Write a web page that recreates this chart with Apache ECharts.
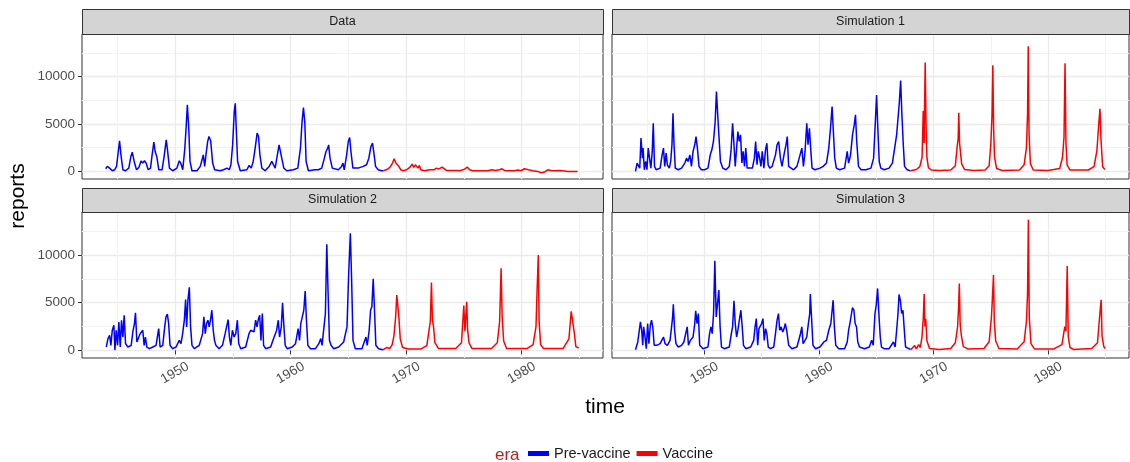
<!DOCTYPE html>
<html><head><meta charset="utf-8">
<script src="https://cdn.jsdelivr.net/npm/echarts@6/dist/echarts.min.js"></script>
<style>html,body{margin:0;padding:0;background:#fff}#c{width:1130px;height:462px}</style>
</head><body><div id="c"></div><script>
// ---------- data ----------
const panelNames = ['Data', 'Simulation 1', 'Simulation 2', 'Simulation 3'];
const eraNames = ['Pre-vaccine', 'Vaccine'];
const xTicks = [1950, 1960, 1970, 1980];
const xMinorTicks = [1945, 1955, 1965, 1975, 1985];
const yTicks = [0, 5000, 10000];
const yMinorTicks = [2500, 7500, 12500];

// Data panel
const dataPreT = [1944.0,1944.14,1944.34,1944.57,1944.77,1944.94,1945.09,1945.2,1945.32,1945.49,1945.72,1946.0,1946.18,1946.3,1946.4,1946.5,1946.67,1946.87,1947.07,1947.2,1947.36,1947.5,1947.68,1947.88,1948.02,1948.17,1948.28,1948.42,1948.6,1948.88,1949.06,1949.24,1949.35,1949.52,1949.8,1950.17,1950.37,1950.5,1950.67,1950.84,1950.96,1951.07,1951.19,1951.3,1951.47,1951.9,1952.19,1952.34,1952.45,1952.57,1952.68,1952.83,1952.94,1953.09,1953.26,1953.43,1953.92,1954.2,1954.5,1954.7,1954.84,1954.99,1955.13,1955.22,1955.3,1955.42,1955.65,1956.22,1956.42,1956.6,1956.77,1956.94,1957.11,1957.23,1957.35,1957.52,1957.8,1958.15,1958.38,1958.53,1958.67,1958.84,1959.01,1959.13,1959.24,1959.42,1959.68,1960.25,1960.63,1960.86,1961.0,1961.12,1961.24,1961.35,1961.55,1962.12,1962.41,1962.7,1962.93,1963.07,1963.22,1963.3,1963.42,1963.62,1964.14,1964.42,1964.54,1964.65,1964.86,1965.0,1965.12,1965.23,1965.4,1965.86,1966.29,1966.58,1966.78,1966.96,1967.1,1967.22,1967.36,1967.59,1967.88,1968.02];
const dataPreV = [280,530,350,70,175,530,2100,3230,1750,175,70,350,1580,2035,2035,880,175,420,1120,880,1120,880,175,350,1750,3090,2100,1580,175,175,1580,3330,2280,350,70,350,1120,880,175,2280,4560,7020,4560,1050,70,70,530,1230,1750,530,1750,3160,3680,3230,880,175,70,175,350,175,700,2800,6320,7190,4560,1050,70,175,630,350,1050,2460,4040,3680,1750,350,70,530,1050,700,350,1580,2800,2880,1400,350,70,175,350,2460,5260,6740,5090,1050,70,175,175,350,1400,2100,2460,2800,1400,350,175,530,880,175,1750,3160,3580,2100,350,350,530,700,1400,2630,2980,1930,530,175,70,70];
const dataVacT = [1968.02,1968.3,1968.6,1968.83,1968.97,1969.12,1969.32,1969.55,1969.75,1970.04,1970.32,1970.53,1970.67,1970.81,1970.93,1971.04,1971.16,1971.27,1971.62,1972.05,1972.42,1972.63,1972.83,1973.12,1973.29,1973.49,1973.92,1974.35,1974.64,1975.07,1975.3,1975.5,1975.79,1976.51,1977.09,1977.43,1977.58,1977.72,1978.1,1978.3,1978.53,1978.96,1979.39,1979.68,1979.96,1980.25,1980.4,1980.6,1980.97,1981.4,1981.69,1981.83,1981.98,1982.27,1982.55,1982.84,1983.27,1983.56,1983.99,1984.42,1984.85];
const dataVacV = [70,175,420,880,1330,880,630,175,70,175,420,770,420,700,880,350,630,175,70,175,175,350,245,455,350,105,105,105,70,245,455,175,70,70,70,175,350,105,175,280,105,70,70,140,70,280,350,175,70,0,-140,-280,-70,175,105,70,105,70,0,0,0];

// Simulation 1
const sim1PreT = [1944.0,1944.14,1944.28,1944.37,1944.48,1944.60,1944.66,1944.77,1944.89,1945.00,1945.11,1945.23,1945.34,1945.46,1945.55,1945.66,1945.80,1946.15,1946.32,1946.44,1946.55,1946.67,1946.78,1946.95,1947.07,1947.18,1947.27,1947.36,1947.47,1947.73,1948.02,1948.30,1948.45,1948.59,1948.74,1948.88,1949.02,1949.17,1949.28,1949.40,1949.54,1949.74,1950.03,1950.32,1950.52,1950.66,1950.80,1950.95,1951.06,1951.18,1951.29,1951.41,1951.61,1951.90,1952.18,1952.33,1952.47,1952.59,1952.70,1952.82,1952.93,1953.05,1953.16,1953.28,1953.39,1953.51,1953.62,1953.74,1953.91,1954.20,1954.37,1954.48,1954.60,1954.71,1954.83,1954.94,1955.06,1955.20,1955.34,1955.46,1955.57,1955.72,1955.92,1956.21,1956.35,1956.49,1956.64,1956.78,1956.98,1957.13,1957.24,1957.36,1957.50,1957.79,1958.08,1958.28,1958.51,1958.65,1958.79,1958.94,1959.05,1959.17,1959.28,1959.40,1959.66,1960.09,1960.37,1960.66,1960.86,1961.01,1961.15,1961.26,1961.38,1961.52,1961.81,1962.24,1962.47,1962.59,1962.76,1962.93,1963.08,1963.19,1963.30,1963.45,1963.68,1964.11,1964.54,1964.77,1964.91,1965.03,1965.14,1965.26,1965.40,1965.69,1966.12,1966.41,1966.55,1966.78,1966.90,1967.01,1967.13,1967.24,1967.36,1967.47,1967.70,1968.0];
const sim1PreV = [0,880,1050,350,3510,1400,2460,175,1050,175,2460,2280,350,2110,5090,530,175,350,1750,2460,530,1930,700,350,1050,2810,6140,2810,350,175,350,880,1400,1050,1750,530,2110,2810,3680,2460,530,175,175,350,1750,2280,3160,5260,8420,5790,3510,1050,350,175,530,2110,5090,2810,530,2460,4210,3160,3860,880,2110,530,2460,350,175,350,1400,3160,700,2110,1400,530,2110,350,2280,2980,700,350,530,1750,2810,3160,1400,530,1930,2810,3680,530,350,175,530,1400,2460,530,2110,5090,2810,4560,2460,350,175,350,530,880,2460,4560,6840,4210,1400,350,175,350,2110,880,1750,3860,4910,5970,3160,530,175,175,350,1400,4910,8070,4560,1050,350,175,350,880,700,3860,5610,7190,9580,5970,2810,530,175,60];
const sim1VacT = [1968.0,1968.5,1968.8,1969.0,1969.1,1969.18,1969.27,1969.35,1969.42,1969.55,1969.8,1970.5,1971.5,1971.9,1972.05,1972.15,1972.2,1972.27,1972.35,1972.45,1972.7,1973.5,1974.5,1974.85,1975.0,1975.1,1975.17,1975.24,1975.32,1975.5,1976.0,1977.5,1977.9,1978.1,1978.2,1978.26,1978.33,1978.45,1978.7,1980.0,1981.0,1981.25,1981.38,1981.47,1981.55,1981.65,1981.9,1983.5,1984.0,1984.25,1984.4,1984.52,1984.6,1984.75,1984.95];
const sim1VacV = [60,200,500,1500,6400,3000,11500,4500,1500,400,150,100,150,600,2500,3500,6200,3000,2800,800,200,100,150,600,3000,5900,11200,4500,1500,300,100,150,700,2500,6000,13200,4000,800,150,100,300,1500,3600,11400,3000,700,150,150,500,2200,4800,6600,3500,500,200];

// Simulation 2
const sim2PreT = [1944.05,1944.20,1944.34,1944.45,1944.57,1944.71,1944.80,1944.91,1945.03,1945.14,1945.26,1945.37,1945.49,1945.60,1945.72,1945.92,1946.21,1946.35,1946.49,1946.58,1946.70,1946.81,1946.98,1947.10,1947.21,1947.33,1947.44,1947.56,1947.79,1948.08,1948.36,1948.59,1948.71,1948.94,1949.11,1949.22,1949.34,1949.45,1949.57,1949.80,1950.09,1950.37,1950.52,1950.66,1950.81,1950.92,1951.01,1951.12,1951.24,1951.35,1951.47,1951.67,1952.10,1952.39,1952.50,1952.62,1952.73,1952.85,1952.96,1953.08,1953.19,1953.31,1953.42,1953.54,1953.82,1954.11,1954.34,1954.48,1954.60,1954.71,1954.83,1954.97,1955.12,1955.26,1955.40,1955.52,1955.69,1956.12,1956.41,1956.55,1956.70,1956.84,1956.98,1957.10,1957.21,1957.33,1957.44,1957.56,1957.67,1957.85,1958.28,1958.48,1958.65,1958.80,1958.94,1959.05,1959.20,1959.31,1959.43,1959.54,1959.71,1960.15,1960.43,1960.66,1960.78,1960.89,1961.01,1961.15,1961.27,1961.38,1961.50,1961.73,1962.16,1962.45,1962.62,1962.73,1962.88,1963.02,1963.14,1963.25,1963.37,1963.51,1963.74,1964.17,1964.60,1964.74,1964.89,1965.03,1965.18,1965.29,1965.41,1965.61,1966.18,1966.53,1966.64,1966.81,1966.93,1967.04,1967.16,1967.27,1967.39,1967.62,1968.0];
const sim2PreV = [350,1230,1580,530,2110,2630,30,2110,530,2980,350,3160,1400,3680,700,350,530,1930,2810,3930,880,700,1750,1930,2110,530,1400,350,175,350,530,2280,350,530,2460,3510,3790,2810,530,175,350,1050,700,1750,3160,5330,2460,5260,6600,2460,530,175,530,1750,3510,1750,2810,3160,2460,3230,4210,2110,1050,530,175,530,1750,1580,3230,1400,530,2110,1400,1750,3160,700,175,350,1750,2110,1930,1930,3160,2460,3230,3680,1050,3860,530,175,350,1050,880,2110,3160,1400,2460,4980,2460,530,175,350,700,2280,1050,2810,2810,4210,6210,3160,530,175,175,700,1230,530,2280,3860,11120,6140,1050,530,175,350,880,880,2460,7900,12280,7370,1050,175,175,1400,530,2110,4210,4560,7510,4210,530,175,60];
const sim2VacT = [1968.0,1968.3,1968.6,1968.8,1968.95,1969.1,1969.2,1969.3,1969.38,1969.5,1969.7,1970.2,1971.3,1971.8,1972.0,1972.1,1972.2,1972.28,1972.38,1972.5,1972.8,1974.3,1974.8,1975.0,1975.1,1975.25,1975.33,1975.45,1975.7,1977.4,1977.9,1978.1,1978.23,1978.32,1978.45,1978.7,1980.5,1981.0,1981.25,1981.35,1981.45,1981.52,1981.65,1981.9,1983.6,1984.1,1984.3,1984.45,1984.55,1984.7,1984.95];
const sim2VacV = [60,300,200,600,1500,3500,5800,5700,3500,1200,300,150,150,500,2200,3000,7100,3200,2500,800,200,200,800,4700,2000,5100,2200,800,200,200,800,3000,8600,3500,1000,200,200,600,2500,6500,10000,3000,600,200,200,1200,4100,4000,2000,400,250];

// Simulation 3
const sim3PreT = [1944.0,1944.20,1944.31,1944.43,1944.54,1944.63,1944.71,1944.83,1944.94,1945.06,1945.17,1945.29,1945.40,1945.52,1945.63,1945.86,1946.15,1946.29,1946.44,1946.58,1946.78,1947.01,1947.13,1947.24,1947.30,1947.41,1947.53,1947.73,1948.02,1948.22,1948.39,1948.51,1948.62,1948.79,1949.02,1949.17,1949.25,1949.37,1949.48,1949.60,1949.89,1950.32,1950.46,1950.58,1950.69,1950.81,1950.92,1951.04,1951.15,1951.27,1951.38,1951.50,1951.75,1952.18,1952.36,1952.47,1952.59,1952.70,1952.82,1952.93,1953.05,1953.19,1953.31,1953.42,1953.62,1954.05,1954.31,1954.43,1954.54,1954.66,1954.77,1954.89,1955.00,1955.12,1955.23,1955.35,1955.46,1955.58,1955.78,1956.06,1956.21,1956.35,1956.47,1956.58,1956.70,1956.84,1956.96,1957.07,1957.21,1957.36,1957.64,1958.08,1958.36,1958.51,1958.62,1958.79,1958.94,1959.08,1959.20,1959.25,1959.37,1959.48,1959.71,1960.09,1960.43,1960.66,1960.86,1961.04,1961.24,1961.35,1961.47,1961.73,1962.24,1962.47,1962.59,1962.70,1962.82,1962.93,1963.05,1963.16,1963.28,1963.39,1963.54,1963.97,1964.40,1964.60,1964.74,1964.89,1965.00,1965.12,1965.23,1965.35,1965.46,1965.69,1966.12,1966.50,1966.65,1966.78,1966.90,1966.99,1967.10,1967.22,1967.33,1967.45,1967.56,1967.85,1968.0];
const sim3PreV = [70,880,1050,2980,2110,530,2460,1400,175,2810,700,2630,3160,2280,530,530,700,1050,1400,700,530,1050,2280,3510,4840,2110,700,350,530,880,1050,2460,530,1050,1400,2810,4140,2810,3860,530,175,350,1750,2460,1750,3860,9400,3510,3510,6320,2460,350,175,350,1750,2460,5190,2810,1400,2110,2280,4210,2460,530,175,350,1050,2460,3330,530,2280,2110,2810,3330,1050,2280,1750,350,175,350,1750,3160,3860,2110,2460,1930,2280,2810,1930,530,175,350,1580,2460,700,1050,1400,2810,3860,5900,3160,530,175,350,880,1050,2110,2810,5260,2460,530,175,175,880,2110,2810,3680,4490,4210,2810,2460,880,350,175,350,1050,530,3860,4740,6490,3860,1400,350,175,175,880,350,2110,3860,5860,5260,3860,4210,2110,350,175,70];
const sim3VacT = [1968.0,1968.35,1968.5,1968.7,1968.85,1969.0,1969.1,1969.18,1969.25,1969.32,1969.42,1969.65,1970.5,1971.5,1971.9,1972.1,1972.18,1972.25,1972.32,1972.42,1972.6,1973.0,1974.4,1974.85,1975.05,1975.15,1975.23,1975.3,1975.42,1975.7,1977.3,1977.9,1978.1,1978.2,1978.27,1978.35,1978.5,1978.8,1980.5,1981.2,1981.45,1981.55,1981.66,1981.75,1981.9,1982.2,1983.8,1984.3,1984.5,1984.62,1984.7,1984.85,1984.98];
const sim3VacV = [70,500,150,600,300,1500,3300,5900,2500,3300,1000,200,100,200,800,2500,4400,7000,2800,1600,400,150,200,900,3500,5800,7900,3000,1000,200,150,900,3000,5900,13700,3500,700,150,150,600,2500,2000,8850,1500,300,100,200,800,3700,5300,1500,400,200];

// ---------- layout ----------
const panelData = [
  [[dataPreT, dataPreV], [dataVacT, dataVacV]],
  [[sim1PreT, sim1PreV], [sim1VacT, sim1VacV]],
  [[sim2PreT, sim2PreV], [sim2VacT, sim2VacV]],
  [[sim3PreT, sim3PreV], [sim3VacT, sim3VacV]]
];
const eraColors = ['#0000FF', '#FF0000'];
const gridBoxes = [
  {left: 82, top: 34, width: 521, height: 145},
  {left: 612, top: 34, width: 517, height: 145},
  {left: 82, top: 212, width: 521, height: 146},
  {left: 612, top: 212, width: 517, height: 146}
];
const stripBoxes = [
  {x: 82, y: 9, h: 25}, {x: 612, y: 9, h: 25},
  {x: 82, y: 188, h: 24}, {x: 612, y: 188, h: 24}
];
const X_MIN = 1941.95, X_MAX = 1987.05;
const Y_MIN = -800, Y_MAX = 14500;
const FONT = '"Liberation Sans", Arial, Helvetica, sans-serif';
const plain = v => String(Math.round(v));

const grid = gridBoxes.map(g => Object.assign({}, g, {
  show: true, borderColor: '#333333', borderWidth: 1, backgroundColor: '#ffffff', containLabel: false
}));

const xAxis = [], yAxis = [], series = [];
gridBoxes.forEach((g, i) => {
  const bottom = i >= 2, left = i % 2 === 0;
  xAxis.push({
    type: 'value', gridIndex: i, min: X_MIN, max: X_MAX, position: 'bottom',
    axisLine: {show: false},
    axisTick: {show: bottom, customValues: xTicks, length: 4, lineStyle: {color: '#333333', width: 1}},
    axisLabel: {show: bottom, customValues: xTicks, formatter: plain, rotate: 30, align: 'center', verticalAlign: 'middle',
      margin: 15, color: '#4D4D4D', fontSize: 13.5, fontFamily: FONT},
    splitLine: {show: true, lineStyle: {color: '#EBEBEB', width: 1.3}}
  });
  xAxis.push({
    type: 'value', gridIndex: i, min: X_MIN, max: X_MAX, position: 'top',
    axisLine: {show: false}, axisTick: {show: false, customValues: xMinorTicks},
    axisLabel: {show: false, customValues: xMinorTicks},
    splitLine: {show: true, lineStyle: {color: '#F2F2F2', width: 1}}
  });
  yAxis.push({
    type: 'value', gridIndex: i, min: Y_MIN, max: Y_MAX, position: 'left',
    axisLine: {show: false},
    axisTick: {show: left, customValues: yTicks, length: 4, lineStyle: {color: '#333333', width: 1}},
    axisLabel: {show: left, customValues: yTicks, formatter: plain, margin: 7, color: '#4D4D4D', fontSize: 13.5, fontFamily: FONT},
    splitLine: {show: true, lineStyle: {color: '#EBEBEB', width: 1.3}}
  });
  yAxis.push({
    type: 'value', gridIndex: i, min: Y_MIN, max: Y_MAX, position: 'right',
    axisLine: {show: false}, axisTick: {show: false, customValues: yMinorTicks},
    axisLabel: {show: false, customValues: yMinorTicks},
    splitLine: {show: true, lineStyle: {color: '#F2F2F2', width: 1}}
  });
  panelData[i].forEach((pair, e) => {
    const [ts, vs] = pair;
    series.push({
      type: 'line', name: eraNames[e], xAxisIndex: i * 2, yAxisIndex: i * 2,
      data: ts.map((t, k) => [t, vs[k]]),
      showSymbol: false, symbol: 'none', silent: true, z: 3,
      lineStyle: {color: eraColors[e], width: 1.5}, itemStyle: {color: eraColors[e]},
      animation: false
    });
  });
});

const graphic = [];
stripBoxes.forEach((s, i) => {
  const w = gridBoxes[i].width;
  graphic.push({type: 'rect', left: s.x, top: s.y, shape: {width: w, height: s.h},
    style: {fill: '#D4D4D4', stroke: '#333333', lineWidth: 1}, z: 10});
  graphic.push({type: 'text', x: s.x + w / 2, y: s.y + s.h / 2,
    style: {text: panelNames[i], fill: '#1A1A1A', font: '12.5px ' + FONT, textAlign: 'center', textVerticalAlign: 'middle'}, z: 11});
});
graphic.push({type: 'text', x: 605, y: 407,
  style: {text: 'time', fill: '#000000', font: '21px ' + FONT, textAlign: 'center', textVerticalAlign: 'middle'}});
graphic.push({type: 'text', x: 18, y: 196, rotation: Math.PI / 2,
  style: {text: 'reports', fill: '#000000', font: '21px ' + FONT, textAlign: 'center', textVerticalAlign: 'middle'}});
graphic.push({type: 'text', x: 495, y: 455,
  style: {text: 'era', fill: '#B22222', font: '17px ' + FONT, textAlign: 'left', textVerticalAlign: 'middle'}});

const chart = echarts.init(document.getElementById('c'), null, {renderer: 'canvas'});
chart.setOption({
  animation: false,
  backgroundColor: '#ffffff',
  textStyle: {fontFamily: FONT},
  grid, xAxis, yAxis, series, graphic,
  legend: {
    data: eraNames, left: 528, top: 446, padding: 0, itemWidth: 21, itemHeight: 5, itemGap: 6,
    icon: 'rect', selectedMode: false,
    textStyle: {fontSize: 14.5, color: '#1A1A1A', fontFamily: FONT}
  }
});
</script></body></html>
